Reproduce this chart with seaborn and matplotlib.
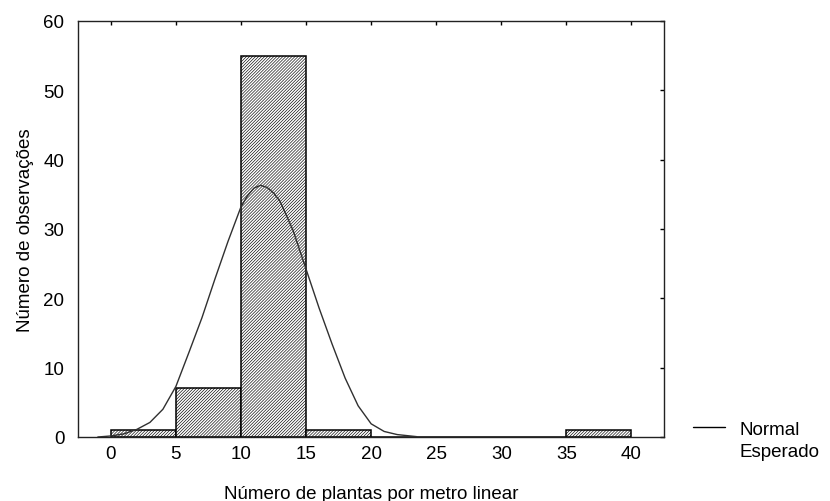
import numpy as np
import pandas as pd
import matplotlib
matplotlib.use("Agg")
import matplotlib.pyplot as plt
import seaborn as sns
from matplotlib.lines import Line2D

# ---- data ----
bin_edges = [0, 5, 10, 15, 20, 25, 30, 35, 40]
bin_counts = [1, 7, 55, 1, 0, 0, 0, 1]

curve_x = [-1.0, 0.0, 1.0, 2.0, 3.0, 4.0, 5.0, 6.0, 7.0, 8.0, 9.0, 10.0, 10.5,
           11.0, 11.5, 12.0, 12.5, 13.0, 14.0, 15.0, 16.0, 17.0, 18.0, 19.0,
           20.0, 21.0, 22.0, 23.5]
curve_y = [0.0, 0.15, 0.45, 1.1, 2.1, 4.0, 7.3, 12.2, 17.2, 22.8, 28.2, 33.2, 34.8,
           35.9, 36.3, 36.0, 35.2, 34.0, 29.8, 24.2, 18.6, 13.4, 8.5, 4.5,
           1.9, 0.8, 0.35, 0.05]

x_ticks = [0, 5, 10, 15, 20, 25, 30, 35, 40]
y_ticks = [0, 10, 20, 30, 40, 50, 60]
x_label = "Número de plantas por metro linear"
y_label = "Número de observações"
legend_labels = ["Normal", "Esperado"]

sns.set_style("white")
plt.rcParams["font.family"] = ["Liberation Sans", "DejaVu Sans"]
plt.rcParams["hatch.linewidth"] = 0.45
plt.rcParams["text.color"] = "black"
plt.rcParams["axes.labelcolor"] = "black"

fig = plt.figure(figsize=(8.3, 5.02), dpi=100)
ax = fig.add_axes([78.3 / 830, 1 - 438 / 502, (664 - 78.3) / 830, (438 - 22) / 502])

mids = [(a + b) / 2 for a, b in zip(bin_edges[:-1], bin_edges[1:])]
df = pd.DataFrame({"x": mids, "w": bin_counts})
sns.histplot(data=df, x="x", weights="w", bins=bin_edges, ax=ax,
             color="white", edgecolor="black", linewidth=1.1,
             hatch="/" * 11, alpha=1.0)

sns.lineplot(x=curve_x, y=curve_y, ax=ax, color="#303030", linewidth=1.0,
             sort=False, estimator=None)

ax.set_xlim(-2.5, 42.5)
ax.set_ylim(0, 60)
ax.set_xticks(x_ticks)
ax.set_yticks(y_ticks)
ax.tick_params(axis="both", direction="in", length=3, width=1, colors="black",
               labelsize=13.5, top=True, right=True)
ax.tick_params(axis="x", pad=6)
ax.tick_params(axis="y", pad=10)
for s in ax.spines.values():
    s.set_visible(True)
    s.set_color("#222222")
    s.set_linewidth(1.0)

ax.set_xlabel(x_label, fontsize=13.5, labelpad=16)
ax.set_ylabel(y_label, fontsize=13.5, labelpad=7)

handles = [Line2D([], [], color="black", linewidth=1.0),
           Line2D([], [], color="none")]
fig.legend(handles, legend_labels, loc="upper left",
           bbox_to_anchor=(676 / 830, 1 - 405 / 502), frameon=False,
           fontsize=13.5, handlelength=1.7, handletextpad=0.8, labelspacing=0.25)

fig.savefig("out.png", dpi=100)
